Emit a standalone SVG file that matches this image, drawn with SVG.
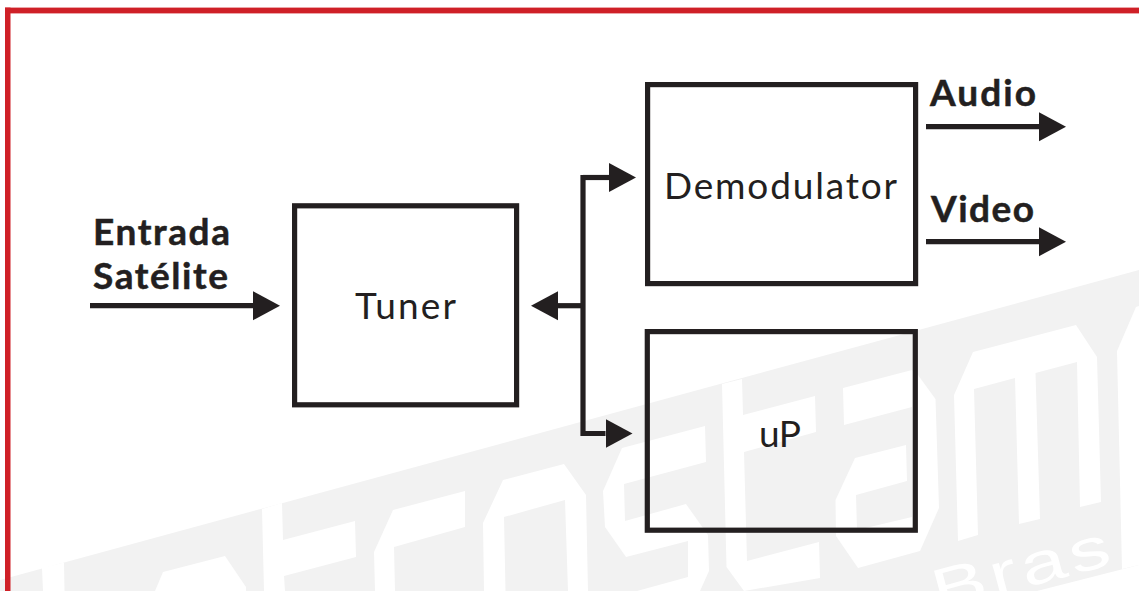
<svg xmlns="http://www.w3.org/2000/svg" width="1139" height="591" viewBox="0 0 1139 591">
<style>
.wm{fill:#fff}
.box{fill:none;stroke:#231f20;stroke-width:5.2}
.c{fill:none;stroke:#231f20;stroke-width:5.2}
.t{font-family:Lato,"Open Sans",sans-serif;font-size:37px;fill:#231f20}
.b{font-weight:700;stroke:#231f20;stroke-width:.5}
.red{fill:#cf2027}
</style>
<defs>
<marker id="h" markerUnits="userSpaceOnUse" markerWidth="28" markerHeight="30" refX="0" refY="15" orient="auto"><path d="M0 .5L27 15L0 29.5Z" fill="#231f20"/></marker>
</defs>
<rect width="1139" height="591" fill="#fff"/>
<g id="watermark">
<path d="M0 580L1139 270V565L1037 591H0Z" fill="#f2f2f2"/>
<path class="wm" d="M42 568L64 562.5L64.5 591H43Z"/>
<path class="wm" d="M155 591L163 572L225 556L246 587V591Z"/>
<path class="wm" d="M262 509L282 503L283 540L355 521L356 557L284 576L285 591H264Z"/>
<path class="wm" d="M374 552L393 510L465 491L465 527L394 547L395 591H375Z"/>
<path class="wm" d="M483 523L503 480L564 464L586 495L588 591H568L565 500L504 517L505.5 591H484Z"/>
<path class="wm" d="M622 448L705 426L706 462L624 484L625 521L686 504L708 535L709 571L700 591H637L688 577L688 541L626 557L605 527L603 491Z"/>
<path class="wm" d="M722 384L742 379L743 415L815 396L816 432L744 452L747 561L819 542L820 578L744 591L726.5 567Z"/>
<path class="wm" d="M843 388L912 370L918 375L935.5 399L939 508L920 551L858 568L836 536L835.5 500L855 458L906 445L907 481L856 495L857 530L912 517L912 407L844 425Z"/>
<path class="wm" d="M954 395L973 352L1076 325L1097 357L1101 502L1080 507L1077 362L1035.5 373L1040 519L1019 524L1015 378L974 389L978 535L958 541Z"/>
<path class="wm" d="M1117 351L1136 307L1139 306V565L1122 569Z"/>
<text transform="translate(938 611) rotate(-15) scale(1.4 1)" font-family="Liberation Sans,sans-serif" font-size="58" letter-spacing="3.5" fill="#fff">Bras</text>
</g>
<g id="border">
<rect class="red" x="5" y="7.6" width="1134" height="5.8"/>
<rect class="red" x="5" y="7.6" width="5.5" height="583.4"/>
</g>
<g id="connectors">
<path class="c" d="M90 305.7H253" marker-end="url(#h)"/>
<path class="c" d="M583 305.7H558" marker-end="url(#h)"/>
<path class="c" d="M609 177.5H583V433.5H605.5" marker-end="url(#h)"/>
<path class="c" d="M583 177.5H609" marker-end="url(#h)"/>
<path class="c" d="M926 126.7H1039" marker-end="url(#h)"/>
<path class="c" d="M926 241.7H1039" marker-end="url(#h)"/>
</g>
<g id="tuner"><rect class="box" x="294.6" y="205.8" width="222" height="199"/><text class="t" x="355" y="319" textLength="101">Tuner</text></g>
<g id="demodulator"><rect class="box" x="647.6" y="84.6" width="268" height="199"/><text class="t" x="664" y="199" textLength="233">Demodulator</text></g>
<g id="up"><rect class="box" x="647.3" y="331.6" width="268" height="198.6"/><text class="t" x="759" y="447" textLength="42">uP</text></g>
<g id="label-entrada"><text class="t b" x="93" y="244.5" textLength="137">Entrada</text><text class="t b" x="93" y="289" textLength="135">Satélite</text></g>
<g id="label-audio"><text class="t b" x="930" y="105.5" textLength="106">Audio</text></g>
<g id="label-video"><text class="t b" x="931" y="221.5" textLength="103">Video</text></g>
</svg>
